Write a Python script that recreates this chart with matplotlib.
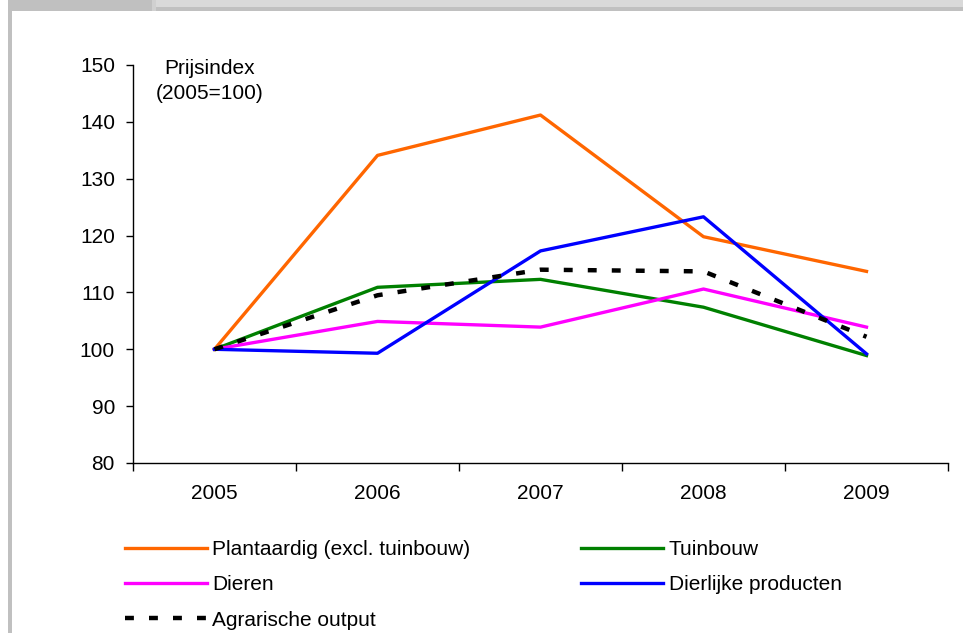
import matplotlib
matplotlib.use("Agg")
import matplotlib.pyplot as plt
from matplotlib.patches import Rectangle
import numpy as np

plt.rcParams['font.family'] = ['Liberation Sans', 'DejaVu Sans']

# data
years = ["2005", "2006", "2007", "2008", "2009"]
plantaardig = [100, 134.1, 141.2, 119.8, 113.7]
tuinbouw = [100, 110.9, 112.3, 107.4, 98.9]
dieren = [100, 104.9, 103.9, 110.6, 103.9]
dierlijke = [100, 99.3, 117.3, 123.3, 99.2]
agrarisch = [100, 109.5, 114.0, 113.7, 102.2]
yticks = [80, 90, 100, 110, 120, 130, 140, 150]

fig = plt.figure(figsize=(9.63, 6.33), dpi=100)
W, H = 963, 633
fs = 15

# grey frame pieces (top band + left bar)
def box(x0, y0, x1, y1, c):
    fig.patches.append(Rectangle((x0 / W, 1 - y1 / H), (x1 - x0) / W, (y1 - y0) / H,
                                 transform=fig.transFigure, color=c, lw=0, zorder=0))
box(8, 0, 152, 11, '#c0c0c0')
box(152, 0, 156, 11, '#d0d0d0')
box(156, 0, 963, 7, '#d9d9d9')
box(156, 7, 963, 11, '#c0c0c0')
box(8, 0, 12, 633, '#c0c0c0')

ax = fig.add_axes([133 / W, 1 - 463 / H, (948 - 133) / W, (463 - 65) / H])
x = np.arange(len(years))

lw = 2.4
ax.plot(x, plantaardig, color='#ff6600', lw=lw, label='Plantaardig (excl. tuinbouw)')
ax.plot(x, tuinbouw, color='#008000', lw=lw, label='Tuinbouw')
ax.plot(x, dieren, color='#ff00ff', lw=lw, label='Dieren')
ax.plot(x, dierlijke, color='#0000ff', lw=lw, label='Dierlijke producten')
ax.plot(x, agrarisch, color='black', lw=3.2, linestyle=(0, (2.0, 3.4)),
        dash_capstyle='butt', label='Agrarische output')

ax.set_xlim(-0.5, len(years) - 0.5)
ax.set_ylim(80, 150)
ax.set_yticks(yticks)
ax.set_xticks(x)
ax.set_xticklabels(years)
ax.set_xticks(np.arange(len(years) + 1) - 0.5, minor=True)
ax.tick_params(axis='x', which='major', length=0, pad=15, labelsize=fs)
ax.tick_params(axis='x', which='minor', length=6, width=1, direction='out')
ax.tick_params(axis='y', length=5, width=1, direction='out', pad=8, labelsize=fs)
for s in ['top', 'right']:
    ax.spines[s].set_visible(False)
ax.spines['left'].set_linewidth(1)
ax.spines['bottom'].set_linewidth(1)

ax.text(210 / W, 1 - 81 / H, 'Prijsindex\n(2005=100)', transform=fig.transFigure,
        ha='center', va='center', fontsize=fs, linespacing=1.35)

h, l = ax.get_legend_handles_labels()
order = [0, 2, 4, 1, 3]
fig.legend([h[i] for i in order], [l[i] for i in order], ncol=2,
           loc='upper left', bbox_to_anchor=(125 / W, 1 - 540 / H),
           frameon=False, fontsize=fs, handlelength=3.95, handletextpad=0.25,
           columnspacing=5.3, labelspacing=0.78, borderaxespad=0, borderpad=0)

fig.savefig('out.png', dpi=100)
